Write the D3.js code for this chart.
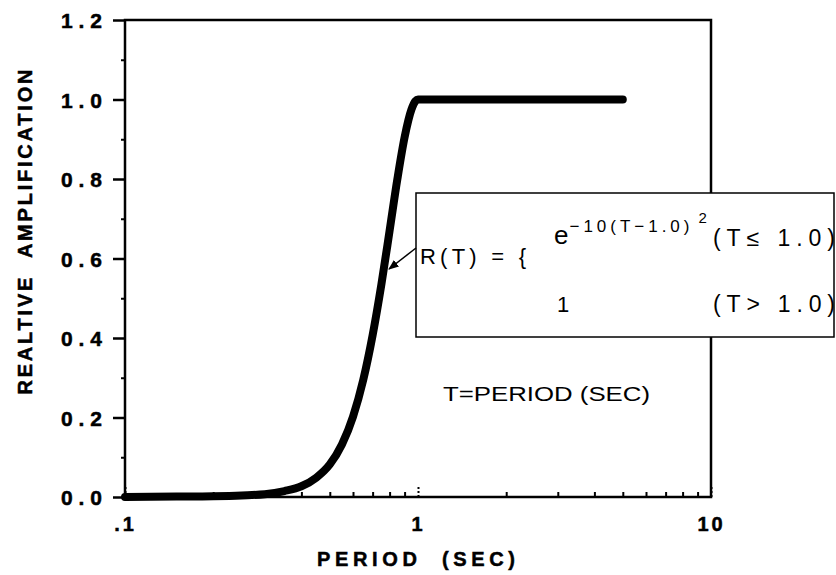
<!DOCTYPE html>
<html>
<head>
<meta charset="utf-8">
<script src="https://cdn.jsdelivr.net/npm/d3@7/dist/d3.min.js"></script>
<style>
  html, body { margin: 0; padding: 0; background: #fff; }
  svg { display: block; }
  .axis-lbl { font-family: "Liberation Sans", Arial, sans-serif; font-weight: bold; fill: #000; }
  .note { font-family: "Liberation Sans", Arial, sans-serif; fill: #000; }
</style>
</head>
<body>
<svg id="chart" width="836" height="575"></svg>
<script>
// Period (s) and relative amplification along the response curve
const periods = [0.1, 0.15, 0.2, 0.25, 0.3, 0.35, 0.4, 0.45, 0.5, 0.55, 0.6, 0.65,
                 0.7, 0.75, 0.8, 0.85, 0.9, 0.95, 0.98, 1.0, 1.5, 2, 3, 4, 5];
const amplification = [0.000, 0.001, 0.002, 0.004, 0.007, 0.015, 0.027, 0.049, 0.082, 0.132,
                       0.202, 0.294, 0.407, 0.535, 0.670, 0.799, 0.905, 0.975, 0.996, 1.0,
                       1.0, 1.0, 1.0, 1.0, 1.0];

// Axis ticks
const xMajorTicks = [0.1, 1, 10];
const xMajorLabels = [".1", "1", "10"];
const xMinorTicks = [0.2, 0.3, 0.4, 0.5, 0.6, 0.7, 0.8, 0.9, 2, 3, 4, 5, 6, 7, 8, 9];
const yMajorTicks = [0.0, 0.2, 0.4, 0.6, 0.8, 1.0, 1.2];
const yMajorLabels = ["0.0", "0.2", "0.4", "0.6", "0.8", "1.0", "1.2"];
const yMinorTicks = [0.1, 0.3, 0.5, 0.7, 0.9, 1.1];

const svg = d3.select("#chart");
const L = 125, R = 711, T = 20, B = 497;

const x = d3.scaleLog().domain([0.1, 10]).range([L, R]);
const y = d3.scaleLinear().domain([0, 1.2]).range([B, T]);

// Frame
svg.append("rect")
  .attr("x", L).attr("y", T).attr("width", R - L).attr("height", B - T)
  .attr("fill", "none").attr("stroke", "#000").attr("stroke-width", 2.5);

// Y axis: long outward ticks with labels, short ticks between
const yAxisMajor = d3.axisLeft(y).tickValues(yMajorTicks)
  .tickFormat((d, i) => yMajorLabels[i]).tickSize(12).tickPadding(11);
const gy = svg.append("g").attr("transform", `translate(${L},0)`).call(yAxisMajor);
gy.select(".domain").remove();
gy.selectAll("line").attr("stroke", "#000").attr("stroke-width", 2.5);
gy.selectAll("text").attr("class", "axis-lbl").attr("font-size", 21)
  .attr("textLength", 41).attr("lengthAdjust", "spacing")
  .attr("stroke", "#000").attr("stroke-width", 0.5)
  .attr("dy", "0.36em");

const gym = svg.append("g").attr("transform", `translate(${L},0)`)
  .call(d3.axisLeft(y).tickValues(yMinorTicks).tickSize(4).tickFormat(""));
gym.select(".domain").remove();
gym.selectAll("line").attr("stroke", "#000").attr("stroke-width", 2);

// X axis: ticks point up into the plot
const gx = svg.append("g").attr("transform", `translate(0,${B})`)
  .call(d3.axisBottom(x).tickValues(xMajorTicks)
    .tickFormat((d, i) => xMajorLabels[i]).tickSize(-12).tickPadding(20));
gx.select(".domain").remove();
gx.selectAll("line").attr("stroke", "#000").attr("stroke-width", 2)
  .attr("stroke-dasharray", "2,2");
gx.selectAll("text").attr("class", "axis-lbl").attr("font-size", 20)
  .attr("letter-spacing", "3px").attr("stroke", "#000").attr("stroke-width", 0.5)
  .attr("dy", "0.71em");

const gxm = svg.append("g").attr("transform", `translate(0,${B})`)
  .call(d3.axisBottom(x).tickValues(xMinorTicks).tickSize(-5).tickFormat(""));
gxm.select(".domain").remove();
gxm.selectAll("line").attr("stroke", "#000").attr("stroke-width", 2);

// Response curve
const pts = periods.map((p, i) => [p, amplification[i]]);
const line = d3.line().x(d => x(d[0])).y(d => y(d[1])).curve(d3.curveMonotoneX);
svg.append("path").datum(pts).attr("d", line)
  .attr("fill", "none").attr("stroke", "#000").attr("stroke-width", 8)
  .attr("stroke-linecap", "round").attr("stroke-linejoin", "round");

// Axis titles
svg.append("text").attr("class", "axis-lbl")
  .attr("transform", "translate(32,232) rotate(-90)")
  .attr("text-anchor", "middle").attr("font-size", 20)
  .attr("stroke", "#000").attr("stroke-width", 0.5)
  .attr("textLength", 325).attr("lengthAdjust", "spacing")
  .text("REALTIVE\u00a0\u00a0AMPLIFICATION");

svg.append("text").attr("class", "axis-lbl")
  .attr("x", 416).attr("y", 566).attr("text-anchor", "middle")
  .attr("font-size", 20).attr("stroke", "#000").attr("stroke-width", 0.5)
  .attr("textLength", 198).attr("lengthAdjust", "spacing")
  .text("PERIOD\u00a0\u00a0(SEC)");

// Definition box
svg.append("rect")
  .attr("x", 416).attr("y", 193).attr("width", 418).attr("height", 144)
  .attr("fill", "#fff").attr("stroke", "#000").attr("stroke-width", 1.5);

// Leader from the box to the curve
const defs = svg.append("defs");
defs.append("marker").attr("id", "arr").attr("viewBox", "0 0 10 10")
  .attr("refX", 9).attr("refY", 5).attr("markerWidth", 7).attr("markerHeight", 7)
  .attr("orient", "auto")
  .append("path").attr("d", "M0,1 L10,5 L0,9 Z").attr("fill", "#000");
svg.append("line").attr("x1", 416).attr("y1", 248).attr("x2", 389).attr("y2", 269)
  .attr("stroke", "#000").attr("stroke-width", 1.5).attr("marker-end", "url(#arr)");

svg.append("text").attr("class", "note").attr("x", 420).attr("y", 264)
  .attr("font-size", 22).attr("textLength", 106).attr("lengthAdjust", "spacing")
  .text("R(T) = {");

const eq = svg.append("text").attr("class", "note").attr("x", 554).attr("y", 244)
  .attr("font-size", 26);
eq.append("tspan").text("e");
eq.append("tspan").attr("font-size", 17).attr("dy", -12).attr("dx", 1)
  .attr("textLength", 120).attr("lengthAdjust", "spacing").text("−10(T−1.0)");
eq.append("tspan").attr("font-size", 15).attr("dy", -9).attr("dx", 5).text("2");

svg.append("text").attr("class", "note").attr("x", 713).attr("y", 246)
  .attr("font-size", 23).attr("textLength", 122).attr("lengthAdjust", "spacing")
  .text("(T\u2264 1.0)");

svg.append("text").attr("class", "note").attr("x", 557).attr("y", 312)
  .attr("font-size", 22).text("1");

svg.append("text").attr("class", "note").attr("x", 713).attr("y", 312)
  .attr("font-size", 23).attr("textLength", 122).attr("lengthAdjust", "spacing")
  .text("(T> 1.0)");

svg.append("text").attr("class", "note").attr("x", 443).attr("y", 401)
  .attr("font-size", 21).attr("textLength", 207).attr("lengthAdjust", "spacingAndGlyphs")
  .text("T=PERIOD (SEC)");
</script>
</body>
</html>
